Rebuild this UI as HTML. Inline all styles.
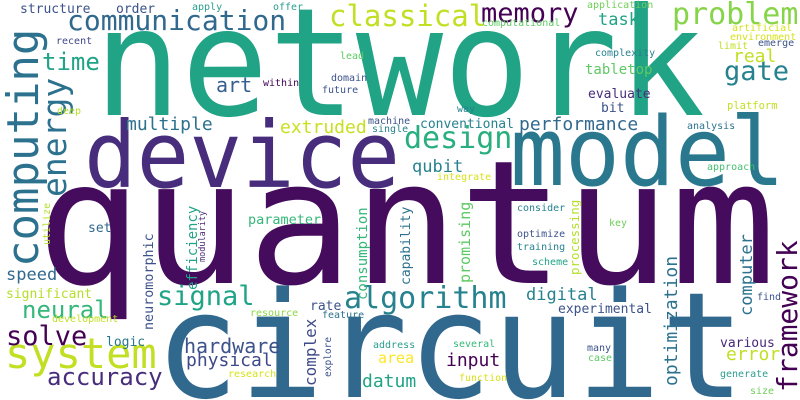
<!DOCTYPE html>
<html><head><meta charset="utf-8"><style>
html,body{margin:0;padding:0;background:#fff;overflow:hidden;width:800px;height:400px;}
svg{display:block}
text{font-family:"DejaVu Sans Mono","Liberation Mono",monospace;}
</style></head><body>
<svg width="800" height="400" xmlns="http://www.w3.org/2000/svg" overflow="hidden">
<rect width="800" height="400" fill="#fff"/>
<text x="94" y="115" font-size="150" textLength="611" lengthAdjust="spacingAndGlyphs" fill="#21a386">network</text>
<text x="84" y="187" font-size="92" textLength="316" lengthAdjust="spacingAndGlyphs" fill="#472d7b">device</text>
<text x="510" y="185" font-size="95" textLength="275" lengthAdjust="spacingAndGlyphs" fill="#2a788e">model</text>
<text x="36" y="283" font-size="172" textLength="740" lengthAdjust="spacingAndGlyphs" fill="#450b5d">quantum</text>
<text x="155" y="397" font-size="147" textLength="590" lengthAdjust="spacingAndGlyphs" fill="#31688e">circuit</text>
<text transform="translate(38,267) rotate(-90)" font-size="44" fill="#2c728e">computing</text>
<text transform="translate(66,197) rotate(-90)" font-size="33" fill="#2c728e">energy</text>
<text transform="translate(797,392) rotate(-90)" font-size="28" fill="#440154">framework</text>

<text x="67" y="30" font-size="28" fill="#31688e">communication</text>
<text x="329" y="26" font-size="29" fill="#c2df23">classical</text>
<text x="481" y="22" font-size="27" fill="#440154">memory</text>
<text x="672" y="24" font-size="30" fill="#86d549">problem</text>
<text x="724" y="80" font-size="27" fill="#26828e">gate</text>
<text x="404" y="148" font-size="30" fill="#29af7f">design</text>
<text x="344" y="308" font-size="30" fill="#26828e">algorithm</text>
<text x="157" y="305" font-size="27" fill="#20a386">signal</text>
<text x="5" y="368" font-size="42" fill="#c2df23">system</text>
<text x="6" y="345" font-size="27" fill="#440154">solve</text>
<text x="22" y="318" font-size="24" fill="#35b779">neural</text>
<text x="47" y="385" font-size="24" fill="#472d7b">accuracy</text>
<text x="42" y="70" font-size="24" fill="#20a386">time</text>

<text x="20" y="13" font-size="13" fill="#3b528b">structure</text>
<text x="116" y="13" font-size="13" fill="#3b528b">order</text>
<text x="192" y="10" font-size="10" fill="#2a9d8f">apply</text>
<text x="273" y="10" font-size="10" fill="#2a9d8f">offer</text>
<text x="56" y="44" font-size="10" fill="#404688">recent</text>
<text x="216" y="92" font-size="20" fill="#35608d">art</text>
<text x="263" y="86" font-size="10" fill="#440154">within</text>
<text x="340" y="59" font-size="10" fill="#5ec962">lead</text>
<text x="331" y="81" font-size="10" fill="#3b528b">domain</text>
<text x="322" y="93" font-size="10" fill="#3b528b">future</text>
<text x="57" y="114" font-size="10" fill="#b5de2b">deep</text>
<text x="126" y="130" font-size="18" fill="#2c728e">multiple</text>
<text x="280" y="133" font-size="18" fill="#c8e020">extruded</text>
<text x="368" y="124" font-size="10" fill="#3b528b">machine</text>
<text x="372" y="132" font-size="10" fill="#26828e">single</text>

<text x="587" y="8" font-size="10" fill="#6ece58">application</text>
<text x="482" y="26" font-size="10" fill="#5ec962">computational</text>
<text x="598" y="25" font-size="17" fill="#20a386">task</text>
<text x="732" y="31" font-size="10" fill="#d8e219">artificial</text>
<text x="730" y="40" font-size="10" fill="#d8e219">environment</text>
<text x="718" y="49" font-size="10" fill="#c2df23">limit</text>
<text x="758" y="46" font-size="10" fill="#3b528b">emerge</text>
<text x="595" y="56" font-size="10" fill="#26828e">complexity</text>
<text x="733" y="62" font-size="18" fill="#c2df23">real</text>
<text x="585" y="74" font-size="14" fill="#5ec962">tabletop</text>
<text x="588" y="98" font-size="13" fill="#472d7b">evaluate</text>
<text x="601" y="112" font-size="13" fill="#3b528b">bit</text>
<text x="457" y="112" font-size="10" fill="#26828e">way</text>
<text x="727" y="109" font-size="10.5" fill="#c2df23">platform</text>
<text x="420" y="128" font-size="13" fill="#26828e">conventional</text>
<text x="519" y="130" font-size="18" fill="#31688e">performance</text>
<text x="687" y="129" font-size="10" fill="#2c728e">analysis</text>
<text x="412" y="172" font-size="17" fill="#26828e">qubit</text>
<text x="437" y="180" font-size="10" fill="#d8e219">integrate</text>
<text x="707" y="170" font-size="10" fill="#44bf70">approach</text>

<text transform="translate(50,245) rotate(-90)" font-size="10" fill="#b5de2b">utilize</text>
<text transform="translate(205,262) rotate(-90)" font-size="8.5" fill="#482878">modularity</text>
<text transform="translate(153,330) rotate(-90)" font-size="13.4" fill="#3b528b">neuromorphic</text>
<text transform="translate(197,290) rotate(-90)" font-size="14" fill="#20a386">efficiency</text>
<text transform="translate(367,300) rotate(-90)" font-size="14" fill="#35b779">consumption</text>
<text transform="translate(316,386) rotate(-90)" font-size="16" fill="#3e4a89">complex</text>
<text transform="translate(331,377) rotate(-90)" font-size="9.5" fill="#3b528b">explore</text>
<text transform="translate(410,285) rotate(-90)" font-size="13" fill="#2c728e">capability</text>
<text transform="translate(470,283) rotate(-90)" font-size="15" fill="#5ec962">promising</text>
<text transform="translate(579,275) rotate(-90)" font-size="12.5" fill="#b5de2b">processing</text>
<text transform="translate(752,316) rotate(-90)" font-size="17" fill="#2c728e">computer</text>
<text transform="translate(677,386) rotate(-90)" font-size="18" fill="#2c728e">optimization</text>

<text x="248" y="224" font-size="13.5" fill="#35b779">parameter</text>
<text x="88" y="232" font-size="13" fill="#31688e">set</text>
<text x="6" y="280" font-size="17" fill="#31688e">speed</text>
<text x="6" y="298" font-size="13" fill="#b5de2b">significant</text>
<text x="52" y="322" font-size="10" fill="#c2df23">development</text>
<text x="310" y="310" font-size="13" fill="#3b528b">rate</text>
<text x="250" y="316" font-size="10" fill="#8fd744">resource</text>
<text x="322" y="318" font-size="10" fill="#2c728e">feature</text>
<text x="106" y="346" font-size="13" fill="#2a788e">logic</text>
<text x="184" y="353" font-size="20" fill="#3b528b">hardware</text>
<text x="186" y="366" font-size="18" fill="#3e4989">physical</text>
<text x="373" y="348" font-size="10" fill="#2a9d8f">address</text>
<text x="378" y="363" font-size="15" fill="#fde725">area</text>
<text x="228" y="377" font-size="10" fill="#d8e219">research</text>
<text x="362" y="387" font-size="18" fill="#20a386">datum</text>

<text x="517" y="211" font-size="10" fill="#26828e">consider</text>
<text x="609" y="226" font-size="10" fill="#6ece58">key</text>
<text x="517" y="237" font-size="10" fill="#3b528b">optimize</text>
<text x="517" y="250" font-size="10" fill="#26828e">training</text>
<text x="532" y="265" font-size="10" fill="#20a386">scheme</text>
<text x="526" y="300" font-size="17" fill="#26828e">digital</text>
<text x="757" y="300" font-size="10" fill="#3b528b">find</text>
<text x="558" y="313" font-size="13" fill="#3b528b">experimental</text>
<text x="720" y="347" font-size="13" fill="#482878">various</text>
<text x="726" y="360" font-size="18" fill="#c2df23">error</text>
<text x="453" y="347" font-size="10" fill="#35b779">several</text>
<text x="587" y="351" font-size="10" fill="#3b528b">many</text>
<text x="588" y="361" font-size="10" fill="#5ec962">case</text>
<text x="446" y="366" font-size="18" fill="#440154">input</text>
<text x="459" y="381" font-size="10" fill="#d8e219">function</text>
<text x="720" y="377" font-size="10" fill="#2a9d8f">generate</text>
<text x="750" y="394" font-size="10" fill="#6ece58">size</text>
</svg>
</body></html>
